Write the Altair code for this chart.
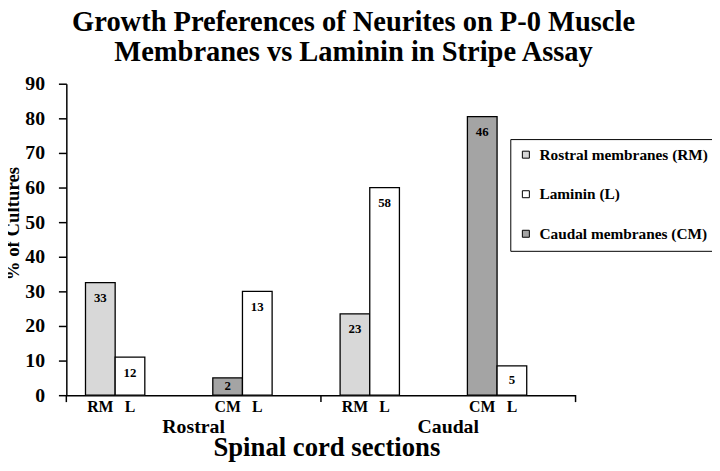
import altair as alt
import pandas as pd

FONT = "Liberation Serif"

title_lines = ["Growth Preferences of Neurites on P-0 Muscle",
               "Membranes vs Laminin in Stripe Assay"]

cluster_order = ["Rostral-RM", "Rostral-CM", "Caudal-RM", "Caudal-CM"]
slot_order = ["membrane", "laminin", "spare"]

bar_cluster = ["Rostral-RM", "Rostral-RM", "Rostral-CM", "Rostral-CM",
               "Caudal-RM", "Caudal-RM", "Caudal-CM", "Caudal-CM"]
bar_code = ["RM", "L", "CM", "L", "RM", "L", "CM", "L"]
bar_value = [32.5, 11, 5, 30, 23.5, 60, 80.5, 8.5]
bar_n = ["33", "12", "2", "13", "23", "58", "46", "5"]

series_codes = ["RM", "L", "CM"]
series_names = ["Rostral membranes (RM)", "Laminin (L)", "Caudal membranes (CM)"]
series_colors = ["#d8d8d8", "#ffffff", "#a4a4a4"]

y_ticks = [0, 10, 20, 30, 40, 50, 60, 70, 80, 90]

group_labels = ["Rostral", "Caudal"]
group_label_cluster = ["Rostral-RM", "Caudal-RM"]
tick_end_cluster = ["Rostral-CM", "Caudal-CM"]
tick_start_cluster = ["Rostral-RM"]

name_of = dict(zip(series_codes, series_names))
bars = pd.DataFrame({
    "cluster": bar_cluster,
    "code": bar_code,
    "series": [name_of[c] for c in bar_code],
    "slot": ["laminin" if c == "L" else "membrane" for c in bar_code],
    "value": bar_value,
    "n": bar_n,
})

W, H = 515, 315

x_scale = alt.Scale(domain=cluster_order, paddingInner=0, paddingOuter=0)
xo_scale = alt.Scale(domain=slot_order, paddingInner=0, paddingOuter=0.646)
y_scale = alt.Scale(domain=[0, 90], nice=False)

x_axis = alt.Axis(labels=False, ticks=False, domainColor="black",
                  domainWidth=1.5, title="Spinal cord sections",
                  titleFont=FONT, titleFontSize=27, titleFontWeight="bold",
                  titleColor="black", titleX=263, titleY=61,
                  titleAlign="center", titleBaseline="alphabetic")
y_axis = alt.Axis(values=y_ticks, grid=False, tickSize=8, tickWidth=1.5,
                  tickColor="black", domainColor="black", domainWidth=1.5,
                  labelFont=FONT, labelFontSize=20, labelFontWeight="bold",
                  labelColor="black", labelPadding=14,
                  title="% of Cultures", titleFont=FONT, titleFontSize=19,
                  titleFontWeight="bold", titleColor="black",
                  titleAngle=270, titleX=-48, titleY=141,
                  titleAlign="center", titleBaseline="alphabetic")


def xenc(**kw):
    return alt.X("cluster:N", scale=x_scale, sort=cluster_order, axis=x_axis,
                 title="Spinal cord sections", **kw)


base = alt.Chart(bars)

bar_layer = base.mark_bar(stroke="black", strokeWidth=1.3).encode(
    x=xenc(),
    xOffset=alt.XOffset("slot:N", scale=xo_scale),
    y=alt.Y("value:Q", scale=y_scale, axis=y_axis, title="% of Cultures"),
    color=alt.Color("series:N",
                    scale=alt.Scale(domain=series_names, range=series_colors),
                    legend=alt.Legend(orient="none", legendX=449, legendY=56,
                                      title=None, strokeColor="black", padding=8,
                                      symbolType="square", symbolSize=50,
                                      symbolStrokeColor="black", symbolStrokeWidth=1,
                                      labelFont=FONT, labelFontSize=15.5,
                                      labelFontWeight="bold", labelColor="black",
                                      labelOffset=6, rowPadding=23, labelLimit=300)),
)

value_labels = base.transform_calculate(
    label_y="max(datum.value - 4.5, datum.value / 2)"
).mark_text(font=FONT, fontSize=13, fontWeight="bold", color="black",
            baseline="middle").encode(
    x=xenc(),
    xOffset=alt.XOffset("slot:N", scale=xo_scale),
    y=alt.Y("label_y:Q", scale=y_scale, axis=y_axis, title="% of Cultures"),
    text="n:N",
)

code_labels = base.mark_text(font=FONT, fontSize=16, fontWeight="bold",
                             color="black", baseline="alphabetic").encode(
    x=xenc(),
    xOffset=alt.XOffset("slot:N", scale=xo_scale),
    y=alt.value(H + 17),
    text="code:N",
)

group_df = pd.DataFrame({"cluster": group_label_cluster, "label": group_labels})
group_text = alt.Chart(group_df).mark_text(
    font=FONT, fontSize=20, fontWeight="bold", color="black", baseline="alphabetic"
).encode(
    x=xenc(bandPosition=1),
    y=alt.value(H + 38),
    text="label:N",
)

end_ticks = alt.Chart(pd.DataFrame({"cluster": tick_end_cluster})).mark_rule(
    color="black", strokeWidth=1.5
).encode(
    x=xenc(bandPosition=1),
    y=alt.value(H),
    y2=alt.value(H + 7),
)

start_ticks = alt.Chart(pd.DataFrame({"cluster": tick_start_cluster})).mark_rule(
    color="black", strokeWidth=1.5
).encode(
    x=xenc(bandPosition=0),
    y=alt.value(H),
    y2=alt.value(H + 7),
)

chart = alt.layer(
    bar_layer, value_labels, code_labels, group_text, end_ticks, start_ticks
).properties(
    width=W,
    height=H,
    padding={"left": 59, "top": 74, "right": 138, "bottom": 66},
    autosize=alt.AutoSizeParams(type="none"),
    background="white",
    title=alt.TitleParams(text=title_lines, font=FONT, fontSize=28.8,
                          fontWeight="bold", color="black", anchor="middle",
                          dx=33, lineHeight=31, offset=7),
).configure_view(stroke=None)

chart.save("out.html", embed_options={"renderer": "svg", "actions": False})
